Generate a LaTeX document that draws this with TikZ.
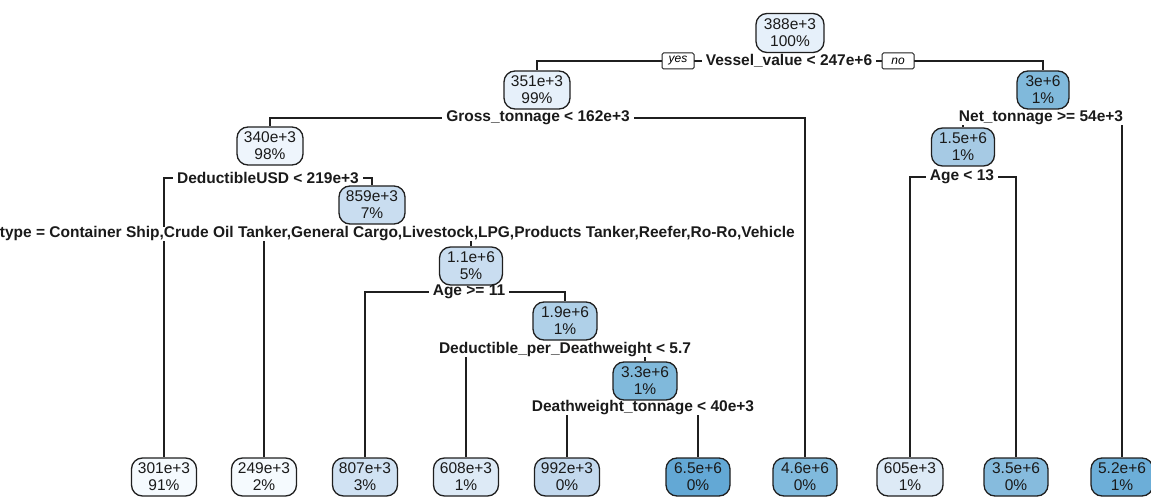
\documentclass[tikz,border=0pt]{standalone}
\usepackage{fontspec}
\setmainfont{Liberation Sans}
\usetikzlibrary{backgrounds}
\definecolor{edgec}{HTML}{1F1F1F}
\definecolor{txt}{HTML}{1A1A1A}
\definecolor{cA}{HTML}{E6F0FA}
\definecolor{cB}{HTML}{EEF5FC}
\definecolor{cC}{HTML}{C9DDF0}
\definecolor{cD}{HTML}{AFD0E8}
\definecolor{cE}{HTML}{80B9DB}
\definecolor{cF}{HTML}{A6CAE4}
\definecolor{lA}{HTML}{F5FAFE}
\definecolor{lB}{HTML}{D0E2F3}
\definecolor{lC}{HTML}{DDEAF6}
\definecolor{lD}{HTML}{C3D9EE}
\definecolor{lE}{HTML}{63A8D5}
\definecolor{lF}{HTML}{80BADD}
\definecolor{lG}{HTML}{86BBDD}
\definecolor{lH}{HTML}{6CAED8}
\begin{document}
\begin{tikzpicture}[x=1pt,y=-1pt,
  tn/.style={draw=edgec, line width=1.3pt, rounded corners=11pt, minimum width=66pt, minimum height=38pt, inner sep=0pt, align=center, font=\fontsize{15.5}{17}\selectfont, text=txt},
  sl/.style={fill=white, inner xsep=4pt, inner ysep=0pt, font=\bfseries\fontsize{15.5}{17}\selectfont, text=txt},
  yn/.style={draw=edgec, line width=1pt, fill=white, font=\itshape\fontsize{12}{12}\selectfont, minimum width=32pt, minimum height=16pt, inner sep=1pt, rounded corners=1.5pt},
  br/.style={draw=edgec, line width=1.2pt}]
\useasboundingbox (0,0) rectangle (1151,497);

% split labels
\node[sl] (S1) at (789,61) {Vessel\_value < 247e+6};
\node[yn] (yes) at (678,61) {yes};
\node[yn] (no) at (898,61) {no};
\node[sl] (S2) at (538,118) {Gross\_tonnage < 162e+3};
\node[sl] (S3) at (1041,118) {Net\_tonnage >= 54e+3};
\node[sl] (S4) at (268,178) {DeductibleUSD < 219e+3};
\node[sl, anchor=east] (S5) at (799,234) {type = Container Ship,Crude Oil Tanker,General Cargo,Livestock,LPG,Products Tanker,Reefer,Ro-Ro,Vehicle};
\node[sl] (S6) at (469,292) {Age >= 11};
\node[sl] (S7) at (565,350) {Deductible\_per\_Deathweight < 5.7};
\node[sl] (S8) at (643,408) {Deathweight\_tonnage < 40e+3};
\node[sl] (S9) at (962,177) {Age < 13};

% inner nodes
\node[tn, fill=cA, minimum width=68pt, minimum height=39pt] (N1) at (790,33) {388e+3\\100\%};
\node[tn, fill=cA] (N2) at (537,90) {351e+3\\99\%};
\node[tn, fill=cE, minimum width=52pt] (N3) at (1043,90) {3e+6\\1\%};
\node[tn, fill=cB] (N4) at (270,146) {340e+3\\98\%};
\node[tn, fill=cC] (N5) at (372,205) {859e+3\\7\%};
\node[tn, fill=cC, minimum width=63pt] (N6) at (471,266) {1.1e+6\\5\%};
\node[tn, fill=cD, minimum width=64pt] (N7) at (565,321) {1.9e+6\\1\%};
\node[tn, fill=cE, minimum width=64pt] (N8) at (645,381) {3.3e+6\\1\%};
\node[tn, fill=cF, minimum width=63pt] (N9) at (963,147) {1.5e+6\\1\%};

% leaves
\node[tn, fill=lA, minimum width=65pt] (L1) at (164,477) {301e+3\\91\%};
\node[tn, fill=lA, minimum width=65pt] (L2) at (264,477) {249e+3\\2\%};
\node[tn, fill=lB, minimum width=65pt] (L3) at (365,477) {807e+3\\3\%};
\node[tn, fill=lC, minimum width=65pt] (L4) at (466,477) {608e+3\\1\%};
\node[tn, fill=lD, minimum width=65pt] (L5) at (567,477) {992e+3\\0\%};
\node[tn, fill=lE, minimum width=64pt] (L6) at (698,477) {6.5e+6\\0\%};
\node[tn, fill=lF, minimum width=64pt] (L7) at (805,477) {4.6e+6\\0\%};
\node[tn, fill=lC, minimum width=66pt] (L8) at (910,477) {605e+3\\1\%};
\node[tn, fill=lG, minimum width=64pt] (L9) at (1016,477) {3.5e+6\\0\%};
\node[tn, fill=lH, minimum width=62pt] (L10) at (1122,477) {5.2e+6\\1\%};

\begin{pgfonlayer}{background}
\draw[br] (S1.center) -| (N2.north);
\draw[br] (S1.center) -| (N3.north);
\draw[br] (S2.center) -| (N4.north);
\draw[br] (S2.center) -| (L7.north);
\draw[br] (S3.center) -| (N9.north);
\draw[br] (S3.center) -| (L10.north);
\draw[br] (S4.center) -| (L1.north);
\draw[br] (S4.center) -| (N5.north);
\draw[br] (S5.center) -| (L2.north);
\draw[br] (S5.center) -| (N6.north);
\draw[br] (S6.center) -| (L3.north);
\draw[br] (S6.center) -| (N7.north);
\draw[br] (S7.center) -| (L4.north);
\draw[br] (S7.center) -| (N8.north);
\draw[br] (S8.center) -| (L5.north);
\draw[br] (S8.center) -| (L6.north);
\draw[br] (S9.center) -| (L8.north);
\draw[br] (S9.center) -| (L9.north);
\end{pgfonlayer}
\end{tikzpicture}
\end{document}
